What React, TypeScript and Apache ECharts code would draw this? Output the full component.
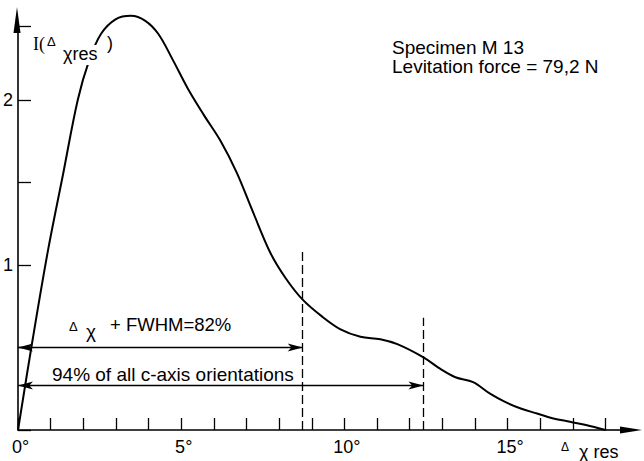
import React, { useEffect, useRef } from "react";
import * as echarts from "echarts";

// Δχres in degrees and intensity I(Δχres)
const degrees = [0, 0.45, 0.92, 1.38, 1.83, 2.18, 2.54, 3.0, 3.46, 3.9, 4.3, 4.75, 5.2, 5.69, 6.21, 6.7, 7.2, 7.74, 8.2, 8.72, 9.3, 9.88, 10.49, 11.1, 11.62, 12.42, 12.94, 13.4, 13.94, 14.46, 14.92, 15.4, 15.9, 16.4, 16.91, 17.4, 18.0];
const intensity = [0, 0.55, 1.09, 1.55, 2.0, 2.24, 2.4, 2.49, 2.51, 2.48, 2.4, 2.24, 2.07, 1.91, 1.75, 1.56, 1.32, 1.07, 0.92, 0.79, 0.69, 0.61, 0.565, 0.55, 0.52, 0.44, 0.37, 0.32, 0.29, 0.22, 0.17, 0.13, 0.1, 0.07, 0.05, 0.03, 0];

const xLabelDegrees = [0, 5, 10, 15];
const yLabelValues = [1, 2];

const fwhmLimit = 8.72;
const fwhmDashTop = 1.1;
const fwhmArrowY = 0.5;
const allLimit = 12.42;
const allDashTop = 0.68;
const allArrowY = 0.27;

const specimenLines = ["Specimen M 13", "Levitation force = 79,2 N"];
const fwhmText = "+ FWHM=82%";
const allText = "94% of all c-axis orientations";

const FONT = "'Liberation Sans', Arial, sans-serif";

// layout
const GL = 17;
const GT = 25.75;
const GB = 31;
const GR = 38.4;
const W = 644;
const H = 461;

export default function App() {
  const ref = useRef<HTMLDivElement>(null);
  useEffect(() => {
    if (!ref.current) return;
    const chart = echarts.init(ref.current, null, { renderer: "svg" });
    const data = degrees.map((d, i) => [d, intensity[i]]);
    const axisY = H - GB;
    const axisRight = W - GR;
    const txt = (x: number, y: number, text: string, size: number, extra: any = {}) => ({
      type: "text",
      x,
      y,
      z: 100,
      style: { text, fontSize: size, fontFamily: FONT, fill: "#000", textVerticalAlign: "top", ...extra },
    });
    const option: any = {
      animation: false,
      backgroundColor: "#fff",
      grid: { left: GL, top: GT, right: GR, bottom: GB, containLabel: false },
      xAxis: {
        type: "value",
        min: 0,
        max: 18,
        interval: 1,
        axisLine: { lineStyle: { color: "#000", width: 1.6 } },
        axisTick: { inside: true, length: 12, lineStyle: { color: "#000", width: 1.3 } },
        splitLine: { show: false },
        axisLabel: {
          color: "#000",
          fontSize: 18,
          fontFamily: FONT,
          margin: 8,
          padding: [0, 0, 0, 5],
          formatter: (v: number) => (xLabelDegrees.includes(v) ? v + "°" : ""),
        },
      },
      yAxis: {
        type: "value",
        min: 0,
        max: 2.45,
        interval: 0.5,
        axisLine: { show: true, lineStyle: { color: "#000", width: 1.6 } },
        axisTick: { show: true, inside: true, length: 13, lineStyle: { color: "#000", width: 1.3 } },
        splitLine: { show: false },
        axisLabel: {
          color: "#000",
          fontSize: 18,
          fontFamily: FONT,
          margin: 5,
          formatter: (v: number) => (yLabelValues.includes(v) ? String(v) : ""),
        },
      },
      series: [
        {
          type: "line",
          data,
          smooth: 0.35,
          clip: false,
          showSymbol: false,
          lineStyle: { color: "#000", width: 2 },
          z: 3,
        },
        {
          type: "line",
          data: [],
          markLine: {
            silent: true,
            symbol: ["none", "none"],
            label: { show: false },
            lineStyle: { color: "#000", type: [9, 4], width: 1.3 },
            data: [
              [{ coord: [fwhmLimit, 0] }, { coord: [fwhmLimit, fwhmDashTop] }],
              [{ coord: [allLimit, 0] }, { coord: [allLimit, allDashTop] }],
            ],
          },
        },
        {
          type: "line",
          data: [],
          markLine: {
            silent: true,
            symbol: ["arrow", "arrow"],
            symbolSize: [6, 15],
            label: { show: false },
            lineStyle: { color: "#000", type: "solid", width: 1.3 },
            data: [
              [{ coord: [0, fwhmArrowY] }, { coord: [fwhmLimit, fwhmArrowY] }],
              [{ coord: [0, allArrowY] }, { coord: [allLimit, allArrowY] }],
            ],
          },
        },
      ],
      graphic: [
        // axis extensions with arrowheads
        { type: "line", z: 50, shape: { x1: axisRight, y1: axisY, x2: 632, y2: axisY }, style: { stroke: "#000", lineWidth: 1.6 } },
        { type: "polygon", z: 50, shape: { points: [[642, axisY], [620, axisY - 3.5], [620, axisY + 3.5]] }, style: { fill: "#000" } },
        { type: "line", z: 50, shape: { x1: GL, y1: GT, x2: GL, y2: 14 }, style: { stroke: "#000", lineWidth: 1.6 } },
        { type: "polygon", z: 50, shape: { points: [[GL, 7], [GL - 3.5, 33], [GL + 3.5, 33]] }, style: { fill: "#000" } },
        // y axis name I(Δχres)
        txt(33, 35, "I(", 18, { fontFamily: "'Liberation Serif', serif", backgroundColor: "#fff" }),
        txt(47, 35, "Δ", 13, { backgroundColor: "#fff" }),
        txt(62, 45, "χres", 18, { backgroundColor: "#fff", padding: [0, 1, 2, 1] }),
        txt(107, 34, ")", 18, { backgroundColor: "#fff" }),
        // x axis name Δχres
        txt(561, 441, "Δ", 12),
        txt(579, 443, "χ res", 18),
        // specimen info
        txt(392, 38, specimenLines[0], 19),
        txt(392, 57, specimenLines[1], 19),
        // annotation labels
        txt(69, 320, "Δ", 13),
        txt(86, 322, "χ", 19),
        txt(110, 315, fwhmText, 18.5),
        txt(52, 365, allText, 19),
      ],
    };
    chart.setOption(option);
    return () => chart.dispose();
  }, []);
  return <div ref={ref} style={{ width: W, height: H, position: "absolute", left: 0, top: 0 }} />;
}
